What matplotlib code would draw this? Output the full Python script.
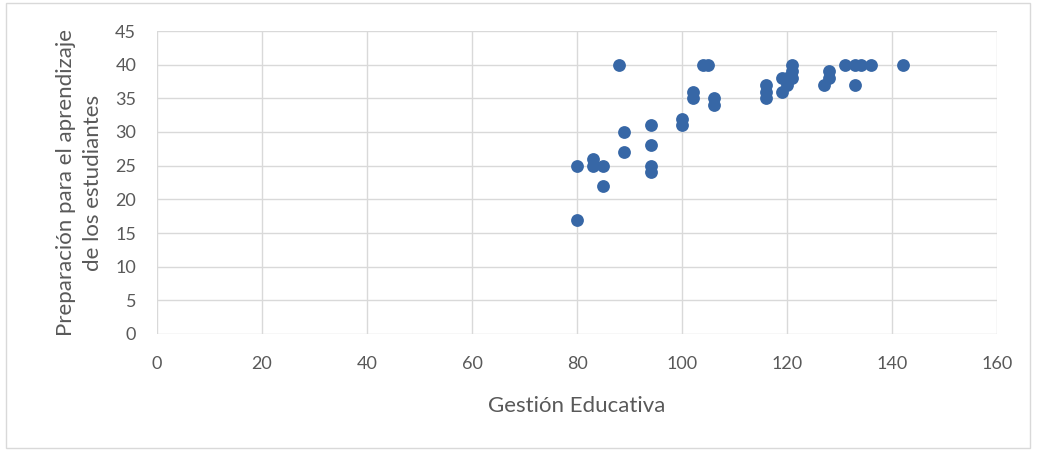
import matplotlib.pyplot as plt
from matplotlib.patches import Rectangle

# values
gestion = [80, 80, 83, 83, 85, 85, 88, 89, 89, 94, 94, 94, 94, 100, 100,
           102, 102, 104, 105, 106, 106, 116, 116, 116, 119, 119, 120, 120,
           121, 121, 121, 127, 128, 128, 131, 133, 134, 133, 136, 142]
preparacion = [25, 17, 26, 25, 25, 22, 40, 30, 27, 31, 28, 25, 24, 32, 31,
               36, 35, 40, 40, 35, 34, 37, 36, 35, 38, 36, 37, 38,
               40, 39, 38, 37, 39, 38, 40, 40, 40, 37, 40, 40]
x_ticks = [0, 20, 40, 60, 80, 100, 120, 140, 160]
y_ticks = [0, 5, 10, 15, 20, 25, 30, 35, 40, 45]

plt.rcParams['font.family'] = ['Lato', 'DejaVu Sans']
text_color = '#595959'
grid_color = '#d9d9d9'

fig = plt.figure(figsize=(10.37, 4.5), dpi=100)
ax = fig.add_axes([157 / 1037, 1 - 334 / 450, 840 / 1037, 303 / 450])

ax.scatter(gestion, preparacion, s=85, color='#3767A6', zorder=3, linewidths=0)

ax.set_xlim(0, 160)
ax.set_ylim(0, 45)
ax.set_xticks(x_ticks)
ax.set_yticks(y_ticks)
ax.grid(True, color=grid_color, linewidth=1)
ax.set_axisbelow(True)
for s in ax.spines.values():
    s.set_visible(False)
ax.tick_params(length=0, labelsize=13, labelcolor=text_color)
ax.tick_params(axis='x', pad=16)
ax.tick_params(axis='y', pad=15)

ax.set_xlabel('Gestión Educativa', fontsize=16, color=text_color, labelpad=17)
ax.set_ylabel('Preparación para el aprendizaje\nde los estudiantes',
              fontsize=16, color=text_color, labelpad=9, linespacing=1.4)

fig.patches.append(Rectangle((6 / 1037, 2 / 450), 1024 / 1037, 445 / 450,
                             transform=fig.transFigure, fill=False,
                             edgecolor=grid_color, linewidth=1))

fig.savefig('out.png', dpi=100)
